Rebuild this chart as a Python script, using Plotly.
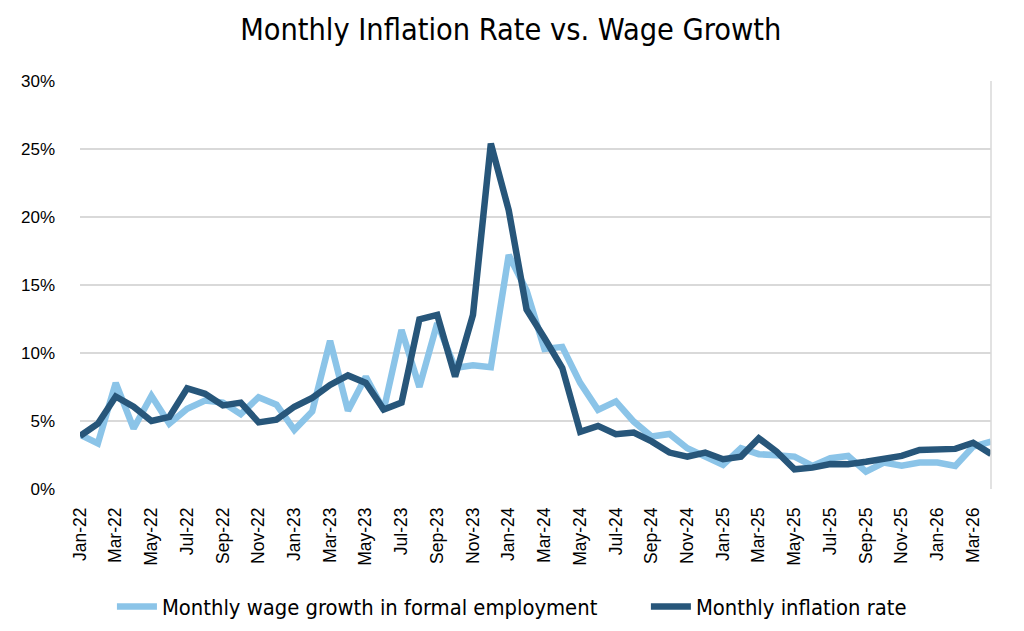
import pandas as pd
import plotly.graph_objects as go

# month labels Jan-22 .. Apr-26
months = [d.strftime("%b-%y") for d in pd.date_range("2022-01-01", "2026-04-01", freq="MS")]

# values (percent)
wage_growth = [4.0, 3.35, 7.8, 4.45, 6.85, 4.8, 5.9, 6.5, 6.35, 5.5, 6.75, 6.2,
               4.35, 5.7, 10.9, 5.75, 8.25, 5.8, 11.7, 7.5, 12.2, 8.9, 9.1, 8.95,
               17.2, 14.6, 10.3, 10.45, 7.8, 5.82, 6.44, 4.96, 3.86, 4.05, 3.0, 2.43,
               1.77, 3.0, 2.56, 2.48, 2.38, 1.7, 2.26, 2.43, 1.28, 1.94, 1.72, 1.94,
               1.94, 1.7, 3.12, 3.49]
inflation = [3.9, 4.8, 6.8, 6.05, 5.0, 5.3, 7.4, 7.0, 6.15, 6.35, 4.9, 5.1,
             6.05, 6.7, 7.65, 8.35, 7.8, 5.85, 6.35, 12.47, 12.8, 8.26, 12.8, 25.4,
             20.5, 13.2, 11.1, 8.9, 4.2, 4.64, 4.03, 4.15, 3.5, 2.68, 2.38, 2.68,
             2.19, 2.38, 3.73, 2.75, 1.45, 1.57, 1.84, 1.82, 2.0, 2.26, 2.43, 2.87,
             2.92, 2.95, 3.4, 2.58]

tick_labels = months[::2]
y_ticks = [0, 5, 10, 15, 20, 25, 30]
y_tick_text = [str(v) + "%" for v in y_ticks]

narrow = "DejaVu Sans Condensed, Liberation Sans Narrow, Roboto, sans-serif"
gap = "\u00a0" * 7  # extra room between the two legend entries

fig = go.Figure()
fig.add_trace(go.Scatter(x=months, y=wage_growth, mode="lines",
                         name="Monthly wage growth in formal employment" + gap,
                         line=dict(color="#8BC4E8", width=6.5)))
fig.add_trace(go.Scatter(x=months, y=inflation, mode="lines",
                         name="Monthly inflation rate",
                         line=dict(color="#27567A", width=6.5)))

fig.update_layout(
    width=1024, height=631, autosize=False,
    margin=dict(l=72, r=41, t=73, b=150),
    paper_bgcolor="white", plot_bgcolor="white",
    title=dict(text="Monthly Inflation Rate vs. Wage Growth", x=0.491, xanchor="center",
               y=0.966, yanchor="middle", font=dict(family=narrow, size=30.4, color="black")),
    font=dict(family="Liberation Sans, Arial, sans-serif", color="black"),
    legend=dict(orientation="h", xref="container", x=0.1015, xanchor="left",
                yref="container", y=0.051, yanchor="middle",
                font=dict(family=narrow, size=21.8, color="black"),
                itemwidth=40, traceorder="normal"),
    showlegend=True,
)
fig.update_xaxes(type="category", tickmode="array", tickvals=tick_labels, ticktext=tick_labels,
                 tickangle=-90, tickfont=dict(size=17.5), showgrid=False, showline=False,
                 zeroline=False, ticks="", ticklabelstandoff=14, automargin=False)
fig.update_yaxes(range=[0, 30], tickmode="array", tickvals=y_ticks, ticktext=y_tick_text,
                 tickfont=dict(size=17), showgrid=True, gridcolor="#D9D9D9", gridwidth=1.5,
                 zeroline=False, showline=False, ticklabelstandoff=24, automargin=False)
# right border of the plot area
fig.add_shape(type="line", xref="paper", yref="paper", x0=1, x1=1, y0=0, y1=1,
              line=dict(color="#D9D9D9", width=1.5))

fig.write_html("out.html")
